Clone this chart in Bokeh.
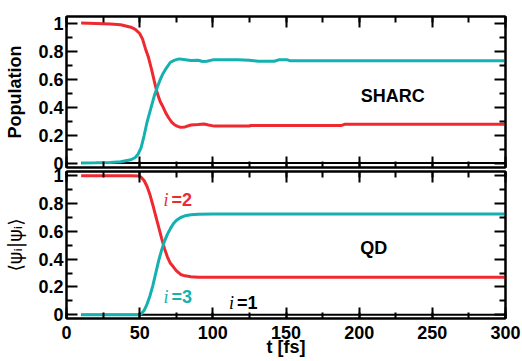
from bokeh.plotting import figure
from bokeh.layouts import column
from bokeh.models import Range1d, LinearAxis, SingleIntervalTicker, FixedTicker
from bokeh.core.properties import value
from bokeh.embed import file_html
from bokeh.resources import INLINE

# ---------------- data ----------------
# SHARC (top panel)
sharc_t2 = [10, 20, 30, 37, 44, 47, 50, 52, 54, 56, 58, 60, 62, 64, 66, 68, 70, 72, 74, 76, 78,
            81, 85, 90, 94, 97, 101, 110, 125, 126, 188, 190, 300]
sharc_p2 = [1.0, 0.997, 0.993, 0.987, 0.97, 0.955, 0.925, 0.885, 0.815, 0.755, 0.675, 0.585, 0.5,
            0.44, 0.4, 0.355, 0.32, 0.29, 0.272, 0.262, 0.255, 0.258, 0.272, 0.275, 0.279, 0.272,
            0.264, 0.264, 0.264, 0.269, 0.269, 0.277, 0.277]
sharc_t3 = [10, 20, 30, 37, 44, 47, 49, 51, 53, 55, 57.5, 60, 62, 64, 66, 68, 71, 74, 77, 80, 85,
            90, 93, 96, 100, 110, 117, 125, 131, 142, 145, 151, 153, 300]
sharc_p3 = [0.0, 0.002, 0.005, 0.01, 0.024, 0.04, 0.065, 0.11, 0.195, 0.29, 0.385, 0.48, 0.54,
            0.595, 0.64, 0.675, 0.72, 0.735, 0.744, 0.74, 0.733, 0.734, 0.725, 0.727, 0.737,
            0.737, 0.738, 0.734, 0.727, 0.727, 0.737, 0.737, 0.73, 0.73]
sharc_t1 = [10, 300]
sharc_p1 = [0.0, 0.0]

# QD (bottom panel)
qd_t2 = [10, 45, 49, 51, 53, 55, 57, 59, 61, 63, 65, 67, 69, 71, 73, 75, 78, 81, 85, 90, 100, 300]
qd_p2 = [1.0, 1.0, 0.998, 0.99, 0.966, 0.925, 0.865, 0.79, 0.71, 0.63, 0.55, 0.475, 0.415, 0.37,
         0.345, 0.318, 0.29, 0.28, 0.273, 0.27, 0.27, 0.27]
qd_t3 = [10, 49, 51, 53, 55, 57, 59, 61, 63, 65, 67, 69, 71, 73, 75, 78, 81, 85, 90, 100, 300]
qd_p3 = [0.0, 0.0, 0.006, 0.03, 0.075, 0.135, 0.21, 0.3, 0.39, 0.465, 0.53, 0.58, 0.62, 0.655,
         0.678, 0.7, 0.712, 0.72, 0.724, 0.725, 0.725]
qd_t1 = [10, 300]
qd_p1 = [0.0, 0.0]

y_ticks = [0, 0.2, 0.4, 0.6, 0.8, 1]
y_tick_labels = ["0", "0.2", "0.4", "0.6", "0.8", "1"]
y_minor = [0.1, 0.3, 0.5, 0.7, 0.9]

panel_titles = ["SHARC", "QD"]
state_labels = ["=2", "=3", "=1"]

RED = "#ee2a30"
TEAL = "#14b1b0"
FONT = "Liberation Sans"

W = 522
ML, MR = 66, 17


def y_ticker():
    return FixedTicker(ticks=y_ticks, minor_ticks=y_minor)


def x_ticker():
    return SingleIntervalTicker(interval=50, num_minor_ticks=2)


def style(ax, show_labels):
    ax.axis_line_width = 2
    ax.axis_line_color = "black"
    ax.major_tick_in = 11
    ax.major_tick_out = 0
    ax.minor_tick_in = 6
    ax.minor_tick_out = 0
    ax.major_tick_line_width = 2
    ax.minor_tick_line_width = 2
    ax.major_tick_line_color = "black"
    ax.minor_tick_line_color = "black"
    if show_labels:
        ax.major_label_text_font = FONT
        ax.major_label_text_font_style = "bold"
        ax.major_label_text_font_size = "18px"
        ax.major_label_text_color = "black"
        ax.axis_label_text_font = FONT
        ax.axis_label_text_font_style = "bold"
        ax.axis_label_text_font_size = "18px"
        ax.axis_label_text_color = "black"
    else:
        ax.major_label_text_color = None
        ax.major_label_text_font_size = "0px"
        ax.major_label_standoff = 0
        ax.axis_label = None


def make_panel(height, yr, top, bottom, show_x_labels, fill):
    p = figure(width=W, height=height, x_range=Range1d(0, 300), y_range=yr,
               output_backend="svg", toolbar_location=None,
               min_border_left=ML, min_border_right=MR,
               min_border_top=top, min_border_bottom=bottom)
    p.grid.visible = False
    p.outline_line_color = "black"
    p.outline_line_width = 2
    p.background_fill_color = "white"
    p.border_fill_color = fill

    xa = p.below[0]
    xa.ticker = x_ticker()
    style(xa, show_x_labels)
    ya = p.left[0]
    ya.ticker = y_ticker()
    ya.major_label_overrides = {t: s for t, s in zip(y_ticks, y_tick_labels)}
    style(ya, True)
    ya.major_label_standoff = 3

    ax_top = LinearAxis(ticker=x_ticker())
    style(ax_top, False)
    p.add_layout(ax_top, "above")
    ax_right = LinearAxis(ticker=y_ticker())
    style(ax_right, False)
    p.add_layout(ax_right, "right")
    return p, xa, ya


# ---------------- top panel ----------------
top, top_x, top_y = make_panel(185, Range1d(-0.0315, 1.0465), 16, 18, False, "white")
top_y.axis_label = "Population"
top_y.axis_label_standoff = 10
top.line(sharc_t1, sharc_p1, line_color="black", line_width=2)
top.line(sharc_t2, sharc_p2, line_color=RED, line_width=3)
top.line(sharc_t3, sharc_p3, line_color=TEAL, line_width=3)
top.text(x=[223], y=[0.48], text=[panel_titles[0]], text_font=value(FONT),
         text_font_style="bold", text_font_size="18px", text_align="center",
         text_baseline="middle", text_color="black")

# ---------------- bottom panel ----------------
bot, bot_x, bot_y = make_panel(211, Range1d(-0.027, 1.031), 21, 43, True, None)
bot.margin = (-35, 0, 0, 0)
bot_x.axis_label = "t [fs]"
bot_x.major_label_standoff = 7
bot_x.axis_label_standoff = -5
bot_y.axis_label = "⟨ψᵢ|ψᵢ⟩"
bot_y.axis_label_text_font = "DejaVu Sans"
bot_y.axis_label_text_font_style = "normal"
bot_y.axis_label_text_font_size = "19px"
bot_y.axis_label_standoff = 9
bot.line(qd_t1, qd_p1, line_color="black", line_width=2)
bot.line(qd_t2, qd_p2, line_color=RED, line_width=3)
bot.line(qd_t3, qd_p3, line_color=TEAL, line_width=3)
bot.text(x=[210], y=[0.483], text=[panel_titles[1]], text_font=value(FONT),
         text_font_style="bold", text_font_size="18px", text_align="center",
         text_baseline="middle", text_color="black")

lab_x = [66.3, 66.3, 111]
lab_y = [0.828, 0.131, 0.085]
lab_c = [RED, TEAL, "black"]
for lx, ly, lt, lc in zip(lab_x, lab_y, state_labels, lab_c):
    bot.text(x=[lx], y=[ly], text=["i"], text_font=value("Liberation Serif"),
             text_font_style="italic", text_font_size="18px", text_align="left",
             text_baseline="middle", text_color=lc)
    bot.text(x=[lx], y=[ly], text=[lt], x_offset=8, text_font=value(FONT),
             text_font_style="bold", text_font_size="18px", text_align="left",
             text_baseline="middle", text_color=lc)

layout = column(top, bot, spacing=0)
open("out.html", "w").write(file_html(layout, INLINE))
